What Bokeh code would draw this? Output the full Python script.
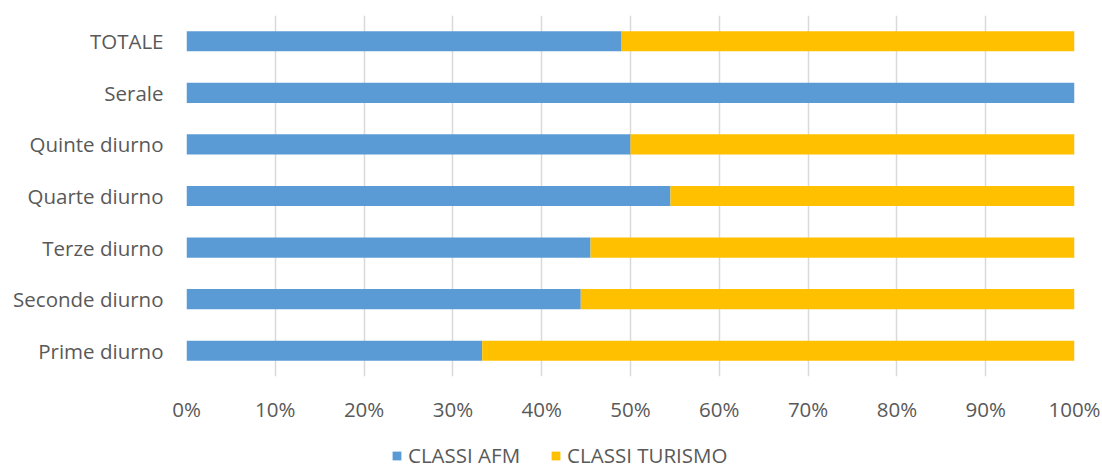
from bokeh.plotting import figure
from bokeh.layouts import column
from bokeh.models import ColumnDataSource, Range1d, FactorRange, NumeralTickFormatter, FixedTicker, Legend, LegendItem
from bokeh.embed import file_html
from bokeh.resources import INLINE

categories = ["Prime diurno", "Seconde diurno", "Terze diurno", "Quarte diurno", "Quinte diurno", "Serale", "TOTALE"]
afm = [0.333, 0.444, 0.455, 0.545, 0.500, 1.000, 0.490]
turismo = [0.667, 0.556, 0.545, 0.455, 0.500, 0.000, 0.510]
series = ["CLASSI AFM", "CLASSI TURISMO"]
colors = ["#5B9BD5", "#FFC000"]
ticks = [0.0, 0.1, 0.2, 0.3, 0.4, 0.5, 0.6, 0.7, 0.8, 0.9, 1.0]

src = ColumnDataSource(dict(cat=categories, afm=afm, turismo=turismo))

FONT = "Open Sans"
TXT = "#595959"

# main chart
p = figure(width=1102, height=440, y_range=FactorRange(*categories, range_padding=0),
           x_range=Range1d(0, 1), output_backend="svg", toolbar_location=None,
           min_border_left=186, min_border_right=28, min_border_top=15, min_border_bottom=64)
p.outline_line_color = None
p.background_fill_color = "white"
p.border_fill_color = "white"

rs = p.hbar_stack(["afm", "turismo"], y="cat", height=0.39, color=colors, source=src, line_color=None)

p.xaxis.ticker = FixedTicker(ticks=ticks)
p.xaxis.formatter = NumeralTickFormatter(format="0%")
for ax in (p.xaxis[0], p.yaxis[0]):
    ax.axis_line_color = None
    ax.major_tick_line_color = None
    ax.minor_tick_line_color = None
    ax.major_label_text_font = FONT
    ax.major_label_text_font_size = "20.5px"
    ax.major_label_text_color = TXT
p.xaxis.major_label_standoff = 12
p.yaxis.major_label_standoff = 17

p.xgrid.ticker = FixedTicker(ticks=ticks)
p.xgrid.grid_line_color = "#D9D9D9"
p.xgrid.grid_line_width = 1.5
p.ygrid.grid_line_color = None

# legend strip (same series, zero-height and outside its visible x range: only the legend shows)
q = figure(width=1102, height=29, x_range=Range1d(50, 51), y_range=FactorRange(*categories),
           output_backend="svg", toolbar_location=None,
           min_border_left=186, min_border_right=28, min_border_top=0, min_border_bottom=0)
q.axis.visible = False
q.grid.grid_line_color = None
q.outline_line_color = None
q.border_fill_color = "white"
lr = q.hbar_stack(["afm", "turismo"], y="cat", height=0.0, color=colors, source=src, line_color=None)

legend = Legend(items=[LegendItem(label=series[i], renderers=[lr[i]]) for i in range(2)],
                orientation="horizontal", location=(205, 0),
                padding=0, margin=0, spacing=30, glyph_width=11, glyph_height=11,
                label_standoff=6, label_height=16, border_line_color=None,
                background_fill_alpha=0, label_text_font=FONT, label_text_font_size="20.5px",
                label_text_color=TXT)
q.add_layout(legend, "center")

layout = column(p, q, spacing=0)
open("out.html", "w").write(file_html(layout, INLINE))
